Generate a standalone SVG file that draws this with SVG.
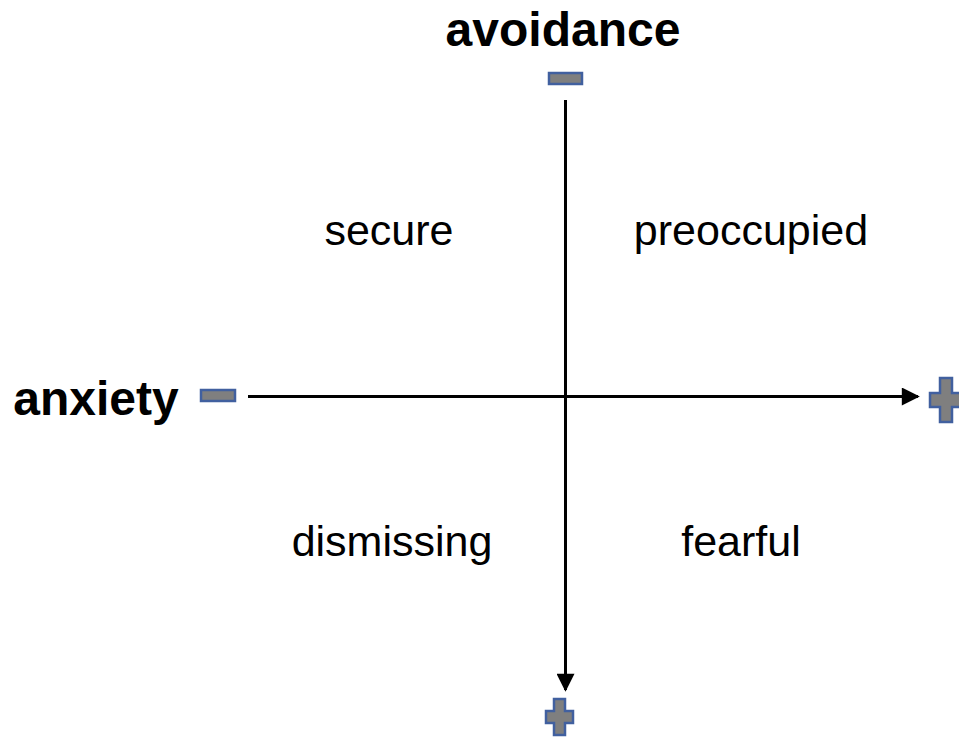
<svg xmlns="http://www.w3.org/2000/svg" width="959" height="737" viewBox="0 0 959 737">
<style>
.t{font-family:"Liberation Sans",Arial,sans-serif;fill:#000;text-anchor:middle}
.b{font-weight:bold;font-size:48px}
.q{font-size:43px}
.sym{fill:#7f7f7f;stroke:#41609f;stroke-width:2.5}
.ax{stroke:#000;stroke-width:3;fill:none}
</style>
<defs>
<marker id="ah" viewBox="0 0 10 10" refX="9" refY="5" markerWidth="6.5" markerHeight="6" markerUnits="strokeWidth" orient="auto">
<path d="M0,0 L10,5 L0,10 z" fill="#000"/>
</marker>
</defs>
<g id="connectors">
<line class="ax" x1="565.5" y1="100" x2="565.5" y2="690" marker-end="url(#ah)"/>
<line class="ax" x1="248" y1="396.5" x2="918" y2="396.5" marker-end="url(#ah)"/>
</g>
<g id="avoidance-label"><text class="t b" x="563" y="46">avoidance</text></g>
<g id="anxiety-label"><text class="t b" x="96" y="415">anxiety</text></g>
<g id="avoidance-minus"><rect class="sym" x="549" y="73" width="33" height="11"/></g>
<g id="anxiety-minus"><rect class="sym" x="201" y="390" width="34" height="11"/></g>
<g id="anxiety-plus"><path class="sym" d="M940,378 h12 v15 h10 v14 h-10 v15 h-12 v-15 h-10 v-14 h10 z"/></g>
<g id="avoidance-plus"><path class="sym" d="M554,699 h11 v12 h8 v12 h-8 v12 h-11 v-12 h-8 v-12 h8 z"/></g>
<g id="secure"><text class="t q" x="389" y="245">secure</text></g>
<g id="preoccupied"><text class="t q" x="751" y="245">preoccupied</text></g>
<g id="dismissing"><text class="t q" x="392" y="556">dismissing</text></g>
<g id="fearful"><text class="t q" x="741" y="556">fearful</text></g>
</svg>
